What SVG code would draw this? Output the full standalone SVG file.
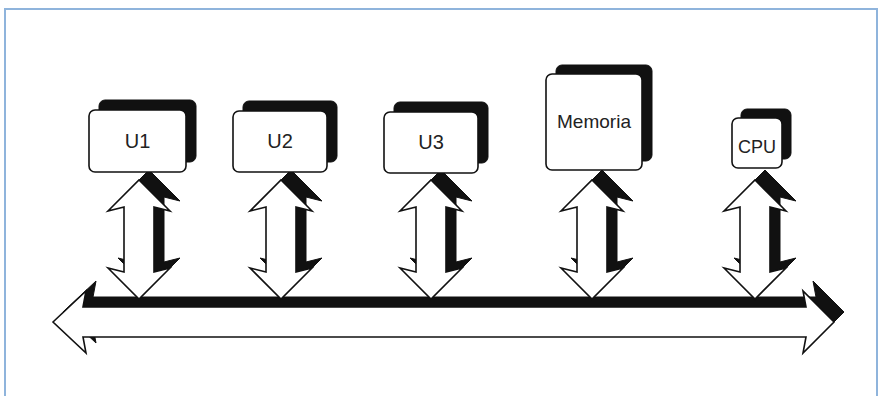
<svg xmlns="http://www.w3.org/2000/svg" xmlns:xlink="http://www.w3.org/1999/xlink" width="879" height="396" viewBox="0 0 879 396">
  <style>
    .frame { fill: none; stroke: #8fb4dc; stroke-width: 2; }
    .shadow { fill: #111; stroke: #111; stroke-width: 1; }
    .body { fill: #fff; stroke: #111; stroke-width: 1.6; stroke-linejoin: miter; }
    .box { fill: #fff; stroke: #111; stroke-width: 1.6; }
    .lbl { font-family: "Liberation Sans", Arial, sans-serif; font-size: 20px; fill: #222; text-anchor: middle; }
  </style>
  <defs>
    <path id="varrow" d="M0,180 L31,211 L15,207 L15,272 L31,268 L0,299 L-31,268 L-15,272 L-15,207 L-31,211 Z"/>
    <path id="busarrow" d="M53,322 L86,291 L83,307 L806,307 L803,291 L834,322 L803,353 L806,337 L83,337 L86,353 Z"/>
  </defs>
  <rect width="879" height="396" fill="#fff"/>
  <path class="frame" d="M5,400 V9 H877 V400"/>

  <g id="bus">
    <use xlink:href="#busarrow" class="shadow" transform="translate(10,-10)"/>
    <use xlink:href="#busarrow" class="body"/>
  </g>

  <g id="connectors">
    <g transform="translate(139,0)">
      <use xlink:href="#varrow" class="shadow" transform="translate(10,-10)"/>
      <use xlink:href="#varrow" class="body"/>
    </g>
    <g transform="translate(281,0)">
      <use xlink:href="#varrow" class="shadow" transform="translate(10,-10)"/>
      <use xlink:href="#varrow" class="body"/>
    </g>
    <g transform="translate(431,0)">
      <use xlink:href="#varrow" class="shadow" transform="translate(10,-10)"/>
      <use xlink:href="#varrow" class="body"/>
    </g>
    <g transform="translate(592,0)">
      <use xlink:href="#varrow" class="shadow" transform="translate(10,-10)"/>
      <use xlink:href="#varrow" class="body"/>
    </g>
    <g transform="translate(755,0)">
      <use xlink:href="#varrow" class="shadow" transform="translate(10,-10)"/>
      <use xlink:href="#varrow" class="body"/>
    </g>
  </g>

  <g id="U1">
    <rect class="shadow" x="99" y="100" width="97" height="62" rx="6"/>
    <rect class="box" x="89" y="110" width="97" height="62" rx="6"/>
    <text class="lbl" x="137.5" y="148">U1</text>
  </g>
  <g id="U2">
    <rect class="shadow" x="243" y="101" width="94" height="61" rx="6"/>
    <rect class="box" x="233" y="111" width="94" height="61" rx="6"/>
    <text class="lbl" x="280" y="148">U2</text>
  </g>
  <g id="U3">
    <rect class="shadow" x="394" y="102" width="94" height="61" rx="6"/>
    <rect class="box" x="384" y="112" width="94" height="61" rx="6"/>
    <text class="lbl" x="431" y="149">U3</text>
  </g>
  <g id="Memoria">
    <rect class="shadow" x="556" y="65" width="96" height="96" rx="6"/>
    <rect class="box" x="546" y="74" width="96" height="96" rx="6"/>
    <text class="lbl" x="594" y="128" style="font-size:19px">Memoria</text>
  </g>
  <g id="CPU">
    <rect class="shadow" x="741" y="109" width="50" height="50" rx="6"/>
    <rect class="box" x="732" y="118" width="50" height="50" rx="6"/>
    <text class="lbl" x="757" y="153" style="font-size:18px">CPU</text>
  </g>
</svg>
